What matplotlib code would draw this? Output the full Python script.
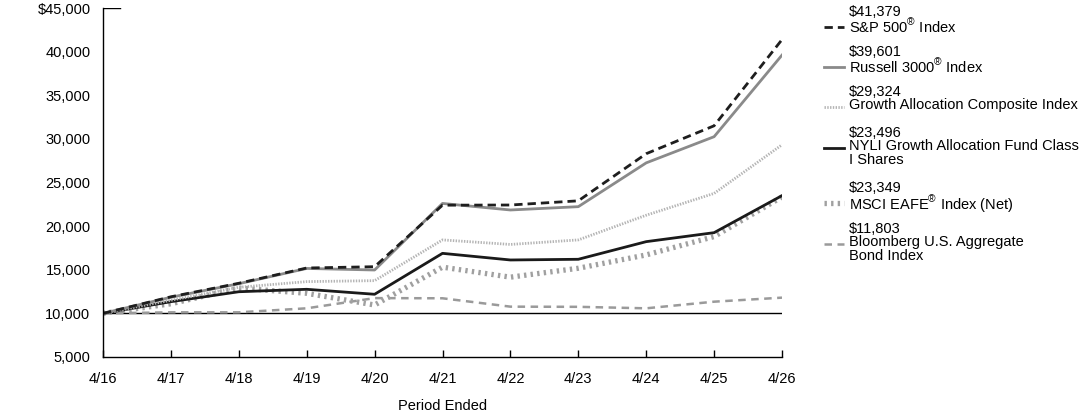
import matplotlib
matplotlib.use("Agg")
import matplotlib.pyplot as plt
from matplotlib.lines import Line2D
from matplotlib.ticker import FuncFormatter

plt.rcParams["font.family"] = ["Liberation Sans", "DejaVu Sans"]
plt.rcParams["mathtext.fontset"] = "custom"
plt.rcParams["mathtext.rm"] = "Liberation Sans"

PERIODS = ["4/16", "4/17", "4/18", "4/19", "4/20", "4/21", "4/22", "4/23", "4/24", "4/25", "4/26"]

SP500 = [10000, 11900, 13450, 15200, 15350, 22400, 22420, 22900, 28300, 31500, 41379]
RUSSELL = [10000, 11850, 13400, 15150, 14970, 22600, 21850, 22230, 27250, 30250, 39601]
COMPOSITE = [10000, 11500, 12990, 13640, 13750, 18420, 17900, 18420, 21250, 23750, 29324]
NYLI = [10000, 11340, 12480, 12760, 12190, 16880, 16120, 16200, 18220, 19250, 23496]
MSCI = [10000, 11100, 12900, 12300, 10960, 15300, 14150, 15170, 16700, 18800, 23349]
BLOOMBERG = [10000, 10120, 10120, 10580, 11750, 11730, 10770, 10750, 10580, 11340, 11803]

END_VALUES = ["$41,379", "$39,601", "$29,324", "$23,496", "$23,349", "$11,803"]
NAMES = [
    "S&P 500$^{®}$ Index",
    "Russell 3000$^{®}$ Index",
    "Growth Allocation Composite Index",
    "NYLI Growth Allocation Fund Class\nI Shares",
    "MSCI EAFE$^{®}$ Index (Net)",
    "Bloomberg U.S. Aggregate\nBond Index",
]

STYLES = [
    dict(color="#1e1e1e", lw=2.0, dashes=(3.0, 1.8)),
    dict(color="#8a8a8a", lw=2.0),
    dict(color="#b4b4b4", lw=2.0, dashes=(0.5, 0.5)),
    dict(color="#1a1a1a", lw=2.0),
    dict(color="#a0a0a0", lw=3.8, dashes=(0.45, 0.8)),
    dict(color="#9a9a9a", lw=1.8, dashes=(3.0, 2.2)),
]
SERIES = [SP500, RUSSELL, COMPOSITE, NYLI, MSCI, BLOOMBERG]

FS = 10.5
W, H = 1092.0, 417.0

fig = plt.figure(figsize=(W / 100, H / 100), dpi=100)
ax = fig.add_axes([103 / W, 1 - 357 / H, (782 - 103) / W, (357 - 8) / H])

x = list(range(len(PERIODS)))
ax.axhline(10000, color="black", lw=1.0, zorder=1)
# draw from back to front
for vals, st in reversed(list(zip(SERIES, STYLES))):
    ax.plot(x, vals, **st, zorder=2)

ax.set_xlim(0, len(PERIODS) - 1)
ax.set_ylim(5000, 45000)
ax.set_xticks(x)
ax.set_xticklabels(PERIODS)
ax.set_yticks(range(5000, 45001, 5000))
ax.yaxis.set_major_formatter(FuncFormatter(
    lambda v, p: f"${v:,.0f}" if v == 45000 else f"{v:,.0f}"))
ax.tick_params(axis="x", direction="in", length=5, width=1, pad=11, labelsize=FS)
ax.tick_params(axis="y", length=0, pad=9, labelsize=FS)
ax.axhline(45000, xmin=0, xmax=0.025, color="black", lw=1.0)
for s in ["top", "right"]:
    ax.spines[s].set_visible(False)
for s in ["left", "bottom"]:
    ax.spines[s].set_linewidth(1.0)
ax.set_xlabel("Period Ended", fontsize=FS, labelpad=9)

# legend on the right, built by hand
tops = [12, 52, 92, 133, 188, 229]
line_h = 14.6
for top, val, name, st in zip(tops, END_VALUES, NAMES, STYLES):
    yv = 1 - top / H
    yn = 1 - (top + line_h) / H
    fig.text(849 / W, yv, val, fontsize=FS, va="center", ha="left")
    fig.text(849 / W, yn + 9.0 / H, name, fontsize=FS, va="top", ha="left",
             linespacing=1.05)
    fig.add_artist(Line2D([824 / W, 844 / W], [yn, yn], transform=fig.transFigure, **st))

fig.savefig("out.png", dpi=100)
